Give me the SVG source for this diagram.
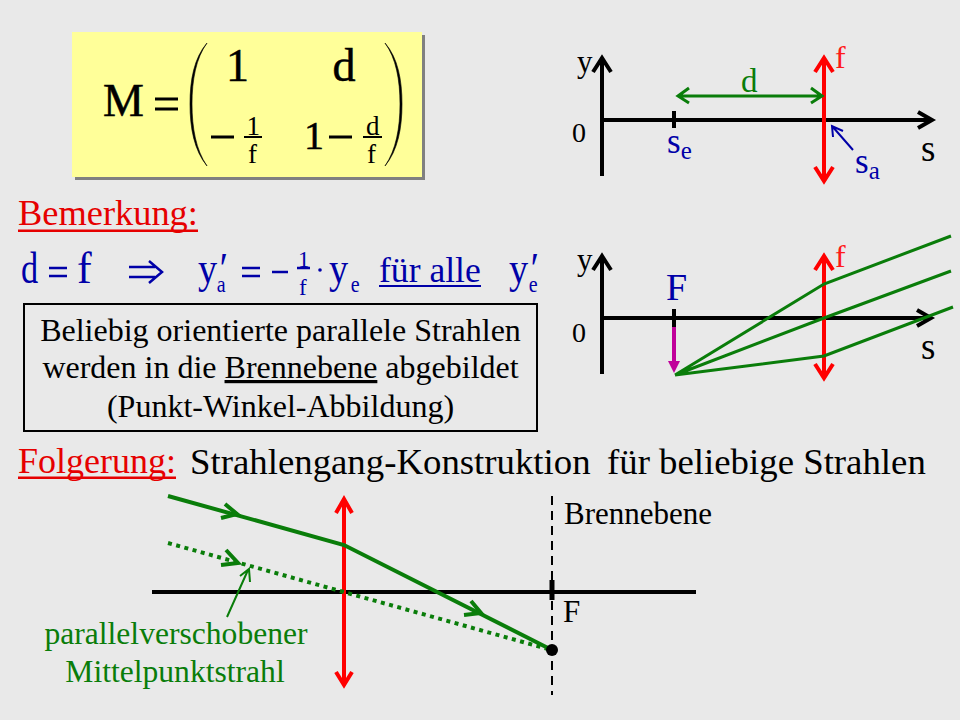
<svg xmlns="http://www.w3.org/2000/svg" width="960" height="720" viewBox="0 0 960 720">
<style>
text{font-family:"Liberation Serif","Times New Roman",serif}
.k{fill:#000}.b{fill:#0000a8}.r{fill:#e60000}.rf{fill:#ff1a1a}.g{fill:#0a7d0a}
.m{fill:#000;stroke:#000;stroke-width:.5}
.blk{stroke:#000;stroke-width:4}
.red{stroke:#f00;stroke-width:4}
.grn{stroke:#0a7d0a;stroke-width:3}
.grn4{stroke:#0a7d0a;stroke-width:4}
.n{font-size:44px}
.sub{font-size:23px}
.note{font-size:32px;text-anchor:middle}
.head{font-size:36.800px}
</style>
<rect width="960" height="720" fill="#e9e9e9"/>
<g id="matrix">
<rect x="75" y="35" width="350" height="145" fill="#808080"/>
<rect x="72" y="32" width="350" height="145" fill="#ffff99"/>
<text x="103" y="116" font-size="46" class="m">M</text>
<path d="M155 99H178M155 109H178" stroke="#000" stroke-width="3" fill="none"/>
<path d="M207 43C194 58 190 80 190 104C190 128 194 150 207 166C196 150 192 128 192 104C192 80 196 58 207 43Z" fill="#000" stroke="#000" stroke-width=".6"/>
<path d="M385 43C398 58 402 80 402 104C402 128 398 150 385 166C396 150 400 128 400 104C400 80 396 58 385 43Z" fill="#000" stroke="#000" stroke-width=".6"/>
<text x="226" y="81" font-size="46" class="m">1</text>
<text x="332.500" y="81" font-size="46" class="m">d</text>
<path d="M211 137H234M329 137H352" stroke="#000" stroke-width="3" fill="none"/>
<path d="M244 137H262M363 137H382" stroke="#000" stroke-width="2" fill="none"/>
<text x="246.500" y="135" font-size="27" class="k">1</text>
<text x="248" y="163" font-size="27" class="k">f</text>
<text x="366" y="135" font-size="27" class="k">d</text>
<text x="367" y="163" font-size="27" class="k">f</text>
<text x="304" y="149" font-size="40" class="m">1</text>
</g>
<g id="bemerkung"><text x="18" y="225" font-size="36.400" class="r">Bemerkung:</text><rect x="18" y="229.500" width="180" height="2.500" fill="#e60000"/></g>
<g id="formula">
<text transform="translate(21 283) scale(.78 1)" class="n b">d</text>
<path d="M49 268H67M49 276H67" stroke="#0000a8" stroke-width="2.500" fill="none"/>
<text x="77" y="283" class="n b">f</text>
<path d="M129 267H155M129 277H155M149 261L162 272L149 283" stroke="#0000a8" stroke-width="2.500" fill="none"/>
<text transform="translate(198 283) scale(.87 1)" class="n b">y<tspan font-style="italic">′</tspan><tspan class="sub" dx="-10" dy="9">a</tspan></text>
<path d="M242 268H260M242 276H260M272 272H288M297 268H310" stroke="#0000a8" stroke-width="2.500" fill="none"/>
<text x="298" y="267" font-size="23" class="b">1</text>
<text x="299" y="295" font-size="23" class="b">f</text>
<circle cx="320" cy="270" r="1.800" fill="#0000a8"/>
<text transform="translate(329 283) scale(.87 1)" class="n b">y<tspan class="sub" dx="3" dy="9">e</tspan></text>
<text x="379" y="282" font-size="35.600" class="b">für alle</text>
<rect x="379" y="285" width="102" height="2" fill="#0000a8"/>
<text transform="translate(509 283) scale(.87 1)" class="n b">y<tspan font-style="italic">′</tspan><tspan class="sub" dx="-9" dy="9">e</tspan></text>
</g>
<g id="note">
<rect x="24" y="304" width="513" height="127" fill="none" stroke="#000" stroke-width="2"/>
<text x="280.500" y="341" class="note k">Beliebig orientierte parallele Strahlen</text>
<text x="280.500" y="378" class="note k">werden in die <tspan text-decoration="underline">Brennebene</tspan> abgebildet</text>
<text x="280.500" y="417" class="note k">(Punkt-Winkel-Abbildung)</text>
</g>
<g id="folgerung">
<text x="18" y="473" font-size="36" class="r">Folgerung:</text><rect x="18" y="476.500" width="158" height="2.500" fill="#e60000"/>
<text x="190" y="474" class="head k">Strahlengang-Konstruktion</text>
<text x="607" y="474" class="head k">für beliebige Strahlen</text>
</g>
<g id="connectors" fill="none">
<path class="blk" d="M602 176V58M593 72L602 58L611 72M602 120H932M918 112L932 120L918 128M674 111V128"/>
<path class="blk" d="M602 374V256M593 270L602 256L611 270M602 318H931M917 310L931 318L917 326M674 309V327"/>
<path class="red" d="M824 58V181M815 72L824 58L833 72M815 167L824 181L833 167"/>
<path class="grn" d="M679 96H821M689 88L678 96L689 103M811 88L822 96L811 103"/>
<path stroke="#0000a8" stroke-width="2" d="M853 150L832 126M833 137L832 126L843 131"/>
<path class="red" d="M824 256V378M815 270L824 256L833 270M815 364L824 378L833 364"/>
<path stroke="#c0009a" stroke-width="4" d="M674 327V363"/>
<path fill="#c0009a" stroke="none" d="M668 361H680L674 373Z"/>
<path class="grn" d="M675 375L824 284L951 236M675 375L824 318L951 271M675 375L824 356L953 307"/>
<path class="blk" d="M152 592H696"/>
<path stroke="#000" stroke-width="5" d="M552 580V600"/>
<path stroke="#000" stroke-width="2" stroke-dasharray="9 6" d="M552 496V695"/>
<path class="red" d="M344 499V685M336 513L344 499L352 513M336 672L344 685L352 672"/>
<path class="grn4" d="M168 496L344 545L548 648"/>
<path class="grn4" d="M225 504L237 514L221 518M471 601L481 613L464 615"/>
<path class="grn4" stroke-dasharray="4 4.500" d="M168 543L548 649"/>
<path class="grn4" d="M226 550L238 563L221 565"/>
<path stroke="#0a7d0a" stroke-width="2" d="M227 617L248 570M240 576L249 569L250 582"/>
<circle cx="552" cy="650" r="6" fill="#000"/>
</g>
<g id="labels">
<text x="577" y="72" font-size="31" class="k">y</text>
<text x="572" y="142" font-size="28" class="k">0</text>
<text x="835" y="68" font-size="32" class="rf">f</text>
<text x="741" y="92" font-size="33" class="g">d</text>
<text x="667" y="153" font-size="35" class="b">s<tspan font-size="25" dy="6">e</tspan></text>
<text x="855" y="173" font-size="35" class="b">s<tspan font-size="25" dy="6">a</tspan></text>
<text x="921" y="161" font-size="37" class="k">s</text>
<text x="577" y="270" font-size="31" class="k">y</text>
<text x="572" y="342" font-size="28" class="k">0</text>
<text x="835" y="267" font-size="32" class="rf">f</text>
<text x="666" y="300" font-size="38" class="b">F</text>
<text x="921" y="359" font-size="37" class="k">s</text>
<text x="564" y="524" font-size="31" class="k">Brennebene</text>
<text x="563" y="622" font-size="31" class="k">F</text>
<text x="176" y="644" font-size="31.600" text-anchor="middle" class="g">parallelverschobener</text>
<text x="175" y="682" font-size="31.600" text-anchor="middle" class="g">Mittelpunktstrahl</text>
</g>
</svg>
